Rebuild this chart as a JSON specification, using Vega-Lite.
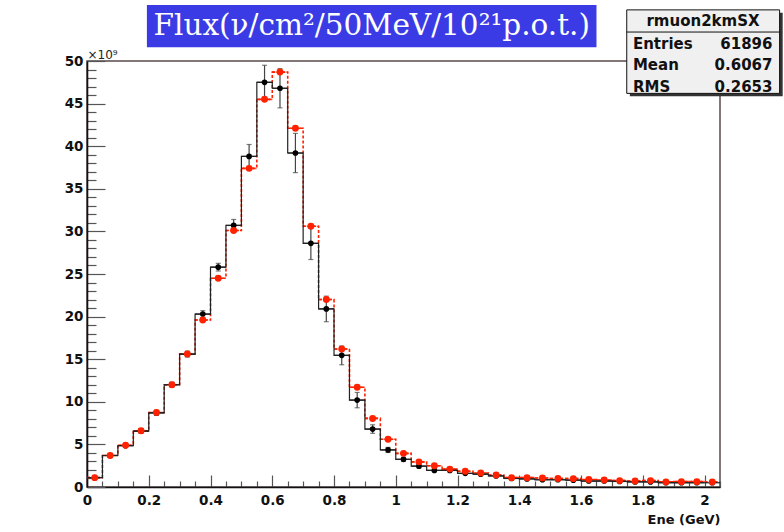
{
  "$schema": "https://vega.github.io/schema/vega-lite/v6.json",
  "width": 633,
  "height": 426,
  "autosize": {"type": "none"},
  "padding": {"left": 87, "top": 61, "right": 64, "bottom": 45},
  "background": "white",
  "config": {
    "view": {"stroke": "#5a4a4a", "strokeWidth": 1.5},
    "axis": {"grid": false, "labelFont": "DejaVu Sans", "labelFontWeight": "bold", "labelFontSize": 13.5, "labelColor": "#111", "titleFont": "DejaVu Sans"}
  },
  "datasets": {
    "h": [
      {"lo": 0.0, "hi": 0.05, "c": 0.025, "v": 1.1, "r": 1.1, "elo": 1.0, "ehi": 1.2},
      {"lo": 0.05, "hi": 0.1, "c": 0.075, "v": 3.7, "r": 3.7, "elo": 3.55, "ehi": 3.85},
      {"lo": 0.1, "hi": 0.15, "c": 0.125, "v": 4.85, "r": 4.9, "elo": 4.65, "ehi": 5.05},
      {"lo": 0.15, "hi": 0.2, "c": 0.175, "v": 6.55, "r": 6.6, "elo": 6.3, "ehi": 6.8},
      {"lo": 0.2, "hi": 0.25, "c": 0.225, "v": 8.7, "r": 8.75, "elo": 8.4, "ehi": 9.0},
      {"lo": 0.25, "hi": 0.3, "c": 0.275, "v": 12.0, "r": 12.0, "elo": 11.7, "ehi": 12.3},
      {"lo": 0.3, "hi": 0.35, "c": 0.325, "v": 15.6, "r": 15.6, "elo": 15.25, "ehi": 15.95},
      {"lo": 0.35, "hi": 0.4, "c": 0.375, "v": 20.3, "r": 19.6, "elo": 19.9, "ehi": 20.7},
      {"lo": 0.4, "hi": 0.45, "c": 0.425, "v": 25.8, "r": 24.5, "elo": 25.35, "ehi": 26.25},
      {"lo": 0.45, "hi": 0.5, "c": 0.475, "v": 30.7, "r": 30.1, "elo": 30.0, "ehi": 31.4},
      {"lo": 0.5, "hi": 0.55, "c": 0.525, "v": 38.8, "r": 37.4, "elo": 37.4, "ehi": 40.2},
      {"lo": 0.55, "hi": 0.6, "c": 0.575, "v": 47.5, "r": 45.5, "elo": 45.5, "ehi": 49.5},
      {"lo": 0.6, "hi": 0.65, "c": 0.625, "v": 46.8, "r": 48.7, "elo": 44.5, "ehi": 49.1},
      {"lo": 0.65, "hi": 0.7, "c": 0.675, "v": 39.2, "r": 42.1, "elo": 36.9, "ehi": 41.5},
      {"lo": 0.7, "hi": 0.75, "c": 0.725, "v": 28.6, "r": 30.6, "elo": 26.7, "ehi": 30.5},
      {"lo": 0.75, "hi": 0.8, "c": 0.775, "v": 20.9, "r": 22.0, "elo": 19.4, "ehi": 22.4},
      {"lo": 0.8, "hi": 0.85, "c": 0.825, "v": 15.45, "r": 16.2, "elo": 14.35, "ehi": 16.55},
      {"lo": 0.85, "hi": 0.9, "c": 0.875, "v": 10.2, "r": 11.7, "elo": 9.3, "ehi": 11.1},
      {"lo": 0.9, "hi": 0.95, "c": 0.925, "v": 6.8, "r": 8.05, "elo": 6.3, "ehi": 7.3},
      {"lo": 0.95, "hi": 1.0, "c": 0.975, "v": 4.35, "r": 5.6, "elo": 4.05, "ehi": 4.65},
      {"lo": 1.0, "hi": 1.05, "c": 1.025, "v": 3.25, "r": 3.95, "elo": 3.0, "ehi": 3.5},
      {"lo": 1.05, "hi": 1.1, "c": 1.075, "v": 2.45, "r": 2.95, "elo": 2.25, "ehi": 2.65},
      {"lo": 1.1, "hi": 1.15, "c": 1.125, "v": 1.95, "r": 2.5, "elo": 1.8, "ehi": 2.1},
      {"lo": 1.15, "hi": 1.2, "c": 1.175, "v": 1.95, "r": 2.1, "elo": 1.8, "ehi": 2.1},
      {"lo": 1.2, "hi": 1.25, "c": 1.225, "v": 1.6, "r": 1.85, "elo": 1.5, "ehi": 1.7},
      {"lo": 1.25, "hi": 1.3, "c": 1.275, "v": 1.5, "r": 1.65, "elo": 1.4, "ehi": 1.6},
      {"lo": 1.3, "hi": 1.35, "c": 1.325, "v": 1.3, "r": 1.4, "elo": 1.2, "ehi": 1.4},
      {"lo": 1.35, "hi": 1.4, "c": 1.375, "v": 1.0, "r": 1.1, "elo": 0.9, "ehi": 1.1},
      {"lo": 1.4, "hi": 1.45, "c": 1.425, "v": 0.95, "r": 1.1, "elo": 0.85, "ehi": 1.05},
      {"lo": 1.45, "hi": 1.5, "c": 1.475, "v": 0.85, "r": 1.05, "elo": 0.75, "ehi": 0.95},
      {"lo": 1.5, "hi": 1.55, "c": 1.525, "v": 0.85, "r": 1.0, "elo": 0.75, "ehi": 0.95},
      {"lo": 1.55, "hi": 1.6, "c": 1.575, "v": 0.8, "r": 0.98, "elo": 0.7, "ehi": 0.9},
      {"lo": 1.6, "hi": 1.65, "c": 1.625, "v": 0.7, "r": 0.87, "elo": 0.6, "ehi": 0.8},
      {"lo": 1.65, "hi": 1.7, "c": 1.675, "v": 0.7, "r": 0.83, "elo": 0.6, "ehi": 0.8},
      {"lo": 1.7, "hi": 1.75, "c": 1.725, "v": 0.65, "r": 0.75, "elo": 0.55, "ehi": 0.75},
      {"lo": 1.75, "hi": 1.8, "c": 1.775, "v": 0.6, "r": 0.71, "elo": 0.5, "ehi": 0.7},
      {"lo": 1.8, "hi": 1.85, "c": 1.825, "v": 0.6, "r": 0.75, "elo": 0.5, "ehi": 0.7},
      {"lo": 1.85, "hi": 1.9, "c": 1.875, "v": 0.5, "r": 0.6, "elo": 0.4, "ehi": 0.6},
      {"lo": 1.9, "hi": 1.95, "c": 1.925, "v": 0.5, "r": 0.63, "elo": 0.4, "ehi": 0.6},
      {"lo": 1.95, "hi": 2.0, "c": 1.975, "v": 0.5, "r": 0.63, "elo": 0.4, "ehi": 0.6},
      {"lo": 2.0, "hi": 2.05, "c": 2.025, "v": 0.5, "r": 0.6, "elo": 0.4, "ehi": 0.6}
    ],
    "one": [{}]
  },
  "data": {"name": "h"},
  "resolve": {"axis": {"x": "independent", "y": "independent"}},
  "layer": [
    {
      "mark": {"type": "line", "interpolate": "step-after", "color": "#ff2200", "strokeWidth": 1.6, "strokeDash": [3, 2]},
      "encoding": {
        "x": {"field": "lo", "type": "quantitative", "scale": {"domain": [0, 2.05], "nice": false, "zero": false}, "axis": null},
        "y": {"field": "r", "type": "quantitative", "scale": {"domain": [0, 50], "nice": false}, "axis": null}
      }
    },
    {
      "mark": {"type": "rule", "color": "#ff2200", "strokeWidth": 1.6, "strokeDash": [3, 2]},
      "encoding": {
        "x": {"field": "lo", "type": "quantitative", "axis": null},
        "x2": {"field": "hi"},
        "y": {"field": "r", "type": "quantitative", "axis": null}
      }
    },
    {
      "mark": {"type": "line", "interpolate": "step-after", "color": "#222", "strokeWidth": 1.2},
      "encoding": {
        "x": {"field": "lo", "type": "quantitative",
          "axis": {"orient": "bottom", "title": "Ene (GeV)", "values": [0, 0.05, 0.1, 0.15, 0.2, 0.25, 0.3, 0.35, 0.4, 0.45, 0.5, 0.55, 0.6, 0.65, 0.7, 0.75, 0.8, 0.85, 0.9, 0.95, 1, 1.05, 1.1, 1.15, 1.2, 1.25, 1.3, 1.35, 1.4, 1.45, 1.5, 1.55, 1.6, 1.65, 1.7, 1.75, 1.8, 1.85, 1.9, 1.95, 2, 2.05], "format": "~g",
            "labelExpr": "abs(datum.value*5 - round(datum.value*5)) < 0.001 ? datum.label : ''",
            "tickSize": -12, "tickColor": "#555", "tickWidth": 1.2,
            "tickDash": {"condition": {"test": "abs(datum.value*5 - round(datum.value*5)) < 0.001", "value": [40, 0]}, "value": [6, 100]},
            "labelPadding": 18, "labelFlush": false, "labelOverlap": false, "domainColor": "#111", "domainWidth": 1.6,
            "titleFontSize": 13, "titleFontWeight": "bold", "titleColor": "#111", "titleAnchor": "end", "titlePadding": 7}},
        "y": {"field": "v", "type": "quantitative",
          "axis": {"orient": "left", "title": "×10⁹", "values": [0, 1, 2, 3, 4, 5, 6, 7, 8, 9, 10, 11, 12, 13, 14, 15, 16, 17, 18, 19, 20, 21, 22, 23, 24, 25, 26, 27, 28, 29, 30, 31, 32, 33, 34, 35, 36, 37, 38, 39, 40, 41, 42, 43, 44, 45, 46, 47, 48, 49, 50],
            "labelExpr": "datum.value % 5 === 0 ? datum.label : ''",
            "tickSize": -18, "tickColor": "#555", "tickWidth": 1.2,
            "tickDash": {"condition": {"test": "datum.value % 5 === 0", "value": [40, 0]}, "value": [9, 100]},
            "labelPadding": 22, "labelOverlap": false, "domainColor": "#111", "domainWidth": 1.6,
            "titleAngle": 0, "titleAlign": "left", "titleBaseline": "alphabetic", "titleX": 0, "titleY": -3, "titleFontSize": 12, "titleFontWeight": "normal", "titleColor": "#222"}}
      }
    },
    {
      "mark": {"type": "rule", "color": "#222", "strokeWidth": 1.2},
      "encoding": {
        "x": {"field": "lo", "type": "quantitative", "axis": null},
        "x2": {"field": "hi"},
        "y": {"field": "v", "type": "quantitative", "axis": null}
      }
    },
    {
      "mark": {"type": "rule", "color": "#444", "strokeWidth": 1.2},
      "encoding": {
        "x": {"field": "c", "type": "quantitative", "axis": null},
        "y": {"field": "elo", "type": "quantitative", "axis": null},
        "y2": {"field": "ehi"}
      }
    },
    {
      "mark": {"type": "tick", "orient": "horizontal", "color": "#444", "size": 5, "thickness": 1.2},
      "encoding": {
        "x": {"field": "c", "type": "quantitative", "axis": null},
        "y": {"field": "ehi", "type": "quantitative", "axis": null}
      }
    },
    {
      "mark": {"type": "tick", "orient": "horizontal", "color": "#444", "size": 5, "thickness": 1.2},
      "encoding": {
        "x": {"field": "c", "type": "quantitative", "axis": null},
        "y": {"field": "elo", "type": "quantitative", "axis": null}
      }
    },
    {
      "mark": {"type": "circle", "color": "#000", "size": 32, "opacity": 1},
      "encoding": {
        "x": {"field": "c", "type": "quantitative", "axis": null},
        "y": {"field": "v", "type": "quantitative", "axis": null}
      }
    },
    {
      "mark": {"type": "circle", "color": "#ff2200", "size": 48, "opacity": 1},
      "encoding": {
        "x": {"field": "c", "type": "quantitative", "axis": null},
        "y": {"field": "r", "type": "quantitative", "axis": null}
      }
    },
    {
      "data": {"name": "one"},
      "mark": {"type": "rect", "color": "#3b3be6", "clip": false},
      "encoding": {
        "x": {"datum": 0.194, "type": "quantitative", "axis": null},
        "x2": {"datum": 1.65},
        "y": {"datum": 51.6, "type": "quantitative", "axis": null},
        "y2": {"datum": 56.57}
      }
    },
    {
      "data": {"name": "one"},
      "mark": {"type": "text", "text": "Flux(ν/cm²/50MeV/10²¹p.o.t.)", "font": "DejaVu Serif", "fontSize": 29.5, "color": "white", "align": "center", "baseline": "alphabetic", "clip": false},
      "encoding": {
        "x": {"datum": 0.922, "type": "quantitative", "axis": null},
        "y": {"datum": 53.1, "type": "quantitative", "axis": null}
      }
    },
    {
      "data": {"name": "one"},
      "mark": {"type": "rect", "color": "#333", "clip": false},
      "encoding": {
        "x": {"datum": 1.758, "type": "quantitative", "axis": null},
        "x2": {"datum": 2.253},
        "y": {"datum": 45.85, "type": "quantitative", "axis": null},
        "y2": {"datum": 55.65}
      }
    },
    {
      "data": {"name": "one"},
      "mark": {"type": "rect", "fill": "#f0f0f0", "stroke": "#111", "strokeWidth": 1, "clip": false},
      "encoding": {
        "x": {"datum": 1.748, "type": "quantitative", "axis": null},
        "x2": {"datum": 2.243},
        "y": {"datum": 46.2, "type": "quantitative", "axis": null},
        "y2": {"datum": 56.0}
      }
    },
    {
      "data": {"name": "one"},
      "mark": {"type": "rule", "color": "#111", "strokeWidth": 1, "clip": false},
      "encoding": {
        "x": {"datum": 1.748, "type": "quantitative", "axis": null},
        "x2": {"datum": 2.243},
        "y": {"datum": 53.4, "type": "quantitative", "axis": null}
      }
    },
    {
      "data": {"name": "one"},
      "mark": {"type": "text", "text": "rmuon2kmSX", "font": "DejaVu Sans", "fontWeight": "bold", "fontSize": 15, "color": "#111", "align": "center", "baseline": "middle", "clip": false},
      "encoding": {
        "x": {"datum": 1.995, "type": "quantitative", "axis": null},
        "y": {"datum": 54.65, "type": "quantitative", "axis": null}
      }
    },
    {
      "data": {"name": "one"},
      "mark": {"type": "text", "text": "Entries", "font": "DejaVu Sans", "fontWeight": "bold", "fontSize": 15, "color": "#111", "align": "left", "baseline": "middle", "clip": false},
      "encoding": {
        "x": {"datum": 1.768, "type": "quantitative", "axis": null},
        "y": {"datum": 52.0, "type": "quantitative", "axis": null}
      }
    },
    {
      "data": {"name": "one"},
      "mark": {"type": "text", "text": "Mean", "font": "DejaVu Sans", "fontWeight": "bold", "fontSize": 15, "color": "#111", "align": "left", "baseline": "middle", "clip": false},
      "encoding": {
        "x": {"datum": 1.768, "type": "quantitative", "axis": null},
        "y": {"datum": 49.5, "type": "quantitative", "axis": null}
      }
    },
    {
      "data": {"name": "one"},
      "mark": {"type": "text", "text": "RMS", "font": "DejaVu Sans", "fontWeight": "bold", "fontSize": 15, "color": "#111", "align": "left", "baseline": "middle", "clip": false},
      "encoding": {
        "x": {"datum": 1.768, "type": "quantitative", "axis": null},
        "y": {"datum": 47.0, "type": "quantitative", "axis": null}
      }
    },
    {
      "data": {"name": "one"},
      "mark": {"type": "text", "text": "61896", "font": "DejaVu Sans", "fontWeight": "bold", "fontSize": 15, "color": "#111", "align": "right", "baseline": "middle", "clip": false},
      "encoding": {
        "x": {"datum": 2.22, "type": "quantitative", "axis": null},
        "y": {"datum": 52.0, "type": "quantitative", "axis": null}
      }
    },
    {
      "data": {"name": "one"},
      "mark": {"type": "text", "text": "0.6067", "font": "DejaVu Sans", "fontWeight": "bold", "fontSize": 15, "color": "#111", "align": "right", "baseline": "middle", "clip": false},
      "encoding": {
        "x": {"datum": 2.22, "type": "quantitative", "axis": null},
        "y": {"datum": 49.5, "type": "quantitative", "axis": null}
      }
    },
    {
      "data": {"name": "one"},
      "mark": {"type": "text", "text": "0.2653", "font": "DejaVu Sans", "fontWeight": "bold", "fontSize": 15, "color": "#111", "align": "right", "baseline": "middle", "clip": false},
      "encoding": {
        "x": {"datum": 2.22, "type": "quantitative", "axis": null},
        "y": {"datum": 47.0, "type": "quantitative", "axis": null}
      }
    }
  ]
}
